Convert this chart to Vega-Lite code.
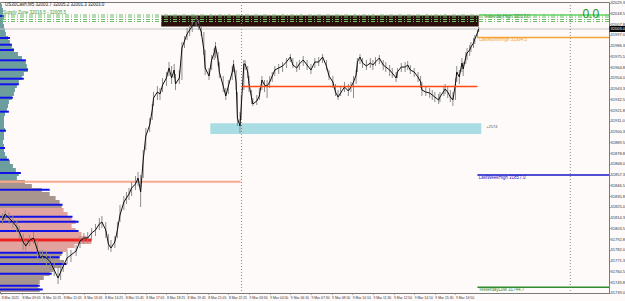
{
  "$schema": "https://vega.github.io/schema/vega-lite/v6.json",
  "width": 609,
  "height": 291,
  "autosize": "none",
  "padding": {"left": 0, "top": 2, "right": 16, "bottom": 8},
  "background": "#fffafa",
  "config": {
    "font": "Liberation Sans",
    "view": {"stroke": "#7a7a7a", "strokeWidth": 1},
    "axis": {"grid": false, "labelFontSize": 4, "labelColor": "#333333", "tickSize": 1, "tickColor": "#666666", "domainColor": "#7a7a7a", "labelPadding": 0, "labelOverlap": false, "labelFlush": false, "labelBound": false}
  },
  "datasets": {
    "candles": [
      {"bar":2,"close":31812,"high":31819,"low":31808},{"bar":4,"close":31818,"high":31822,"low":31812},{"bar":7,"close":31814,"high":31820,"low":31808},{"bar":10,"close":31810,"high":31816,"low":31804},{"bar":13,"close":31805,"high":31812,"low":31800},{"bar":15,"close":31800,"high":31806,"low":31794},{"bar":18,"close":31790,"high":31798,"low":31782},{"bar":20,"close":31786,"high":31792,"low":31780},{"bar":23,"close":31792,"high":31797,"low":31786},{"bar":26,"close":31794,"high":31800,"low":31788},
      {"bar":29,"close":31782,"high":31792,"low":31774},{"bar":31,"close":31774,"high":31782,"low":31770},{"bar":33,"close":31776,"high":31782,"low":31770},{"bar":36,"close":31774,"high":31780,"low":31766},{"bar":39,"close":31770,"high":31776,"low":31762},{"bar":42,"close":31762,"high":31770,"low":31756},{"bar":45,"close":31754,"high":31764,"low":31748},{"bar":47,"close":31760,"high":31766,"low":31752},{"bar":49,"close":31766,"high":31772,"low":31760},{"bar":52,"close":31774,"high":31780,"low":31768},
      {"bar":55,"close":31777,"high":31782,"low":31770},{"bar":59,"close":31781,"high":31787,"low":31776},{"bar":62,"close":31791,"high":31796,"low":31784},{"bar":65,"close":31794,"high":31799,"low":31788},{"bar":68,"close":31794,"high":31800,"low":31789},{"bar":71,"close":31799,"high":31804,"low":31792},{"bar":74,"close":31802,"high":31808,"low":31796},{"bar":77,"close":31808,"high":31814,"low":31802},{"bar":79,"close":31810,"high":31816,"low":31804},{"bar":82,"close":31802,"high":31810,"low":31794},
      {"bar":84,"close":31788,"high":31798,"low":31782},{"bar":86,"close":31784,"high":31792,"low":31780},{"bar":89,"close":31790,"high":31796,"low":31784},{"bar":91,"close":31802,"high":31810,"low":31794},{"bar":93,"close":31817,"high":31827,"low":31810},{"bar":96,"close":31830,"high":31836,"low":31822},{"bar":98,"close":31834,"high":31840,"low":31828},{"bar":100,"close":31838,"high":31844,"low":31832},{"bar":102,"close":31844,"high":31850,"low":31836},{"bar":105,"close":31848,"high":31856,"low":31842},
      {"bar":107,"close":31854,"high":31860,"low":31846},{"bar":109,"close":31840,"high":31857,"low":31825},{"bar":111,"close":31872,"high":31882,"low":31854},{"bar":113,"close":31896,"high":31904,"low":31882},{"bar":116,"close":31907,"high":31914,"low":31900},{"bar":118,"close":31922,"high":31928,"low":31912},{"bar":119,"close":31934,"high":31940,"low":31926},{"bar":122,"close":31940,"high":31946,"low":31932},{"bar":124,"close":31938,"high":31944,"low":31932},{"bar":126,"close":31947,"high":31954,"low":31940},
      {"bar":129,"close":31954,"high":31960,"low":31946},{"bar":131,"close":31964,"high":31970,"low":31956},{"bar":133,"close":31954,"high":31966,"low":31948},{"bar":135,"close":31962,"high":31968,"low":31954},{"bar":136,"close":31948,"high":31958,"low":31942},{"bar":139,"close":31954,"high":31962,"low":31948},{"bar":141,"close":31984,"high":31990,"low":31952},{"bar":143,"close":31991,"high":31996,"low":31984},{"bar":145,"close":31998,"high":32004,"low":31992},{"bar":147,"close":32002,"high":32007,"low":31996},
      {"bar":149,"close":32006,"high":32012,"low":32000},{"bar":152,"close":32012,"high":32016,"low":32006},{"bar":154,"close":32007,"high":32012,"low":32002},{"bar":156,"close":32000,"high":32006,"low":31996},{"bar":158,"close":31982,"high":32000,"low":31977},{"bar":159,"close":31964,"high":31982,"low":31957},{"bar":162,"close":31956,"high":31964,"low":31952},{"bar":164,"close":31972,"high":31977,"low":31962},{"bar":166,"close":31979,"high":31984,"low":31972},{"bar":167,"close":31986,"high":31990,"low":31974},
      {"bar":169,"close":31972,"high":31980,"low":31966},{"bar":170,"close":31960,"high":31970,"low":31954},{"bar":173,"close":31946,"high":31956,"low":31940},{"bar":175,"close":31936,"high":31944,"low":31932},{"bar":177,"close":31946,"high":31952,"low":31938},{"bar":180,"close":31960,"high":31966,"low":31952},{"bar":181,"close":31968,"high":31972,"low":31960},{"bar":183,"close":31950,"high":31962,"low":31942},{"bar":184,"close":31914,"high":31940,"low":31906},{"bar":186,"close":31906,"high":31920,"low":31899},
      {"bar":187,"close":31926,"high":31937,"low":31912},{"bar":189,"close":31968,"high":31972,"low":31942},{"bar":190,"close":31968,"high":31972,"low":31962},{"bar":192,"close":31960,"high":31966,"low":31954},{"bar":193,"close":31948,"high":31956,"low":31940},{"bar":195,"close":31934,"high":31942,"low":31928},{"bar":196,"close":31928,"high":31934,"low":31926},{"bar":199,"close":31931,"high":31937,"low":31927},{"bar":201,"close":31936,"high":31944,"low":31932},{"bar":203,"close":31952,"high":31956,"low":31942},
      {"bar":205,"close":31947,"high":31952,"low":31940},{"bar":207,"close":31946,"high":31952,"low":31934},{"bar":209,"close":31950,"high":31956,"low":31944},{"bar":211,"close":31956,"high":31960,"low":31950},{"bar":213,"close":31962,"high":31966,"low":31956},{"bar":216,"close":31964,"high":31968,"low":31958},{"bar":219,"close":31966,"high":31970,"low":31960},{"bar":222,"close":31970,"high":31974,"low":31964},{"bar":225,"close":31975,"high":31978,"low":31970},{"bar":227,"close":31967,"high":31974,"low":31964},
      {"bar":230,"close":31964,"high":31970,"low":31960},{"bar":232,"close":31968,"high":31972,"low":31962},{"bar":235,"close":31972,"high":31976,"low":31966},{"bar":238,"close":31967,"high":31972,"low":31962},{"bar":241,"close":31962,"high":31968,"low":31958},{"bar":244,"close":31970,"high":31974,"low":31964},{"bar":247,"close":31970,"high":31975,"low":31966},{"bar":250,"close":31975,"high":31978,"low":31969},{"bar":253,"close":31966,"high":31972,"low":31962},{"bar":255,"close":31956,"high":31962,"low":31952},
      {"bar":258,"close":31950,"high":31956,"low":31944},{"bar":260,"close":31940,"high":31948,"low":31936},{"bar":262,"close":31935,"high":31942,"low":31932},{"bar":264,"close":31939,"high":31946,"low":31936},{"bar":267,"close":31945,"high":31950,"low":31940},{"bar":270,"close":31941,"high":31948,"low":31936},{"bar":272,"close":31945,"high":31950,"low":31940},{"bar":274,"close":31950,"high":31956,"low":31934},{"bar":276,"close":31957,"high":31962,"low":31948},{"bar":277,"close":31970,"high":31974,"low":31960},
      {"bar":279,"close":31975,"high":31978,"low":31968},{"bar":281,"close":31969,"high":31974,"low":31964},{"bar":284,"close":31966,"high":31972,"low":31962},{"bar":287,"close":31969,"high":31974,"low":31964},{"bar":289,"close":31967,"high":31972,"low":31962},{"bar":291,"close":31970,"high":31975,"low":31966},{"bar":294,"close":31974,"high":31977,"low":31968},{"bar":297,"close":31967,"high":31972,"low":31962},{"bar":299,"close":31965,"high":31970,"low":31960},{"bar":302,"close":31962,"high":31967,"low":31956},
      {"bar":304,"close":31959,"high":31964,"low":31954},{"bar":307,"close":31954,"high":31960,"low":31950},{"bar":308,"close":31960,"high":31964,"low":31954},{"bar":311,"close":31965,"high":31969,"low":31960},{"bar":314,"close":31965,"high":31970,"low":31960},{"bar":316,"close":31967,"high":31971,"low":31962},{"bar":318,"close":31962,"high":31967,"low":31958},{"bar":321,"close":31960,"high":31964,"low":31955},{"bar":324,"close":31955,"high":31960,"low":31950},{"bar":326,"close":31950,"high":31956,"low":31944},
      {"bar":327,"close":31942,"high":31950,"low":31936},{"bar":330,"close":31940,"high":31946,"low":31936},{"bar":333,"close":31939,"high":31944,"low":31934},{"bar":335,"close":31937,"high":31942,"low":31932},{"bar":337,"close":31935,"high":31940,"low":31930},{"bar":340,"close":31932,"high":31938,"low":31928},{"bar":341,"close":31935,"high":31940,"low":31930},{"bar":344,"close":31941,"high":31946,"low":31936},{"bar":345,"close":31943,"high":31948,"low":31938},{"bar":347,"close":31940,"high":31946,"low":31934},
      {"bar":349,"close":31935,"high":31942,"low":31930},{"bar":351,"close":31932,"high":31940,"low":31926},{"bar":353,"close":31948,"high":31954,"low":31932},{"bar":354,"close":31960,"high":31966,"low":31950},{"bar":356,"close":31955,"high":31962,"low":31948},{"bar":358,"close":31969,"high":31974,"low":31960},{"bar":359,"close":31963,"high":31970,"low":31956},{"bar":361,"close":31975,"high":31980,"low":31968},{"bar":362,"close":31979,"high":31984,"low":31972},{"bar":364,"close":31982,"high":31987,"low":31976},
      {"bar":365,"close":31985,"high":31990,"low":31980},{"bar":367,"close":31989,"high":31994,"low":31984},{"bar":368,"close":31993,"high":31997,"low":31988},{"bar":370,"close":31999,"high":32002,"low":31994},{"bar":371,"close":32003,"high":32005,"low":32000}
    ],
    "profile": [
      {"hi":32028,"lo":32024,"vol":1.5,"zone":"a"},{"hi":32024,"lo":32020,"vol":2.3,"zone":"a"},{"hi":32020,"lo":32016,"vol":2.3,"zone":"a"},{"hi":32016,"lo":32012,"vol":3.1,"zone":"a"},{"hi":32012,"lo":32008,"vol":2.3,"zone":"a"},{"hi":32008,"lo":32004,"vol":3.1,"zone":"a"},{"hi":32004,"lo":32000,"vol":3.9,"zone":"a"},{"hi":32000,"lo":31996,"vol":4.6,"zone":"a"},{"hi":31996,"lo":31992,"vol":6.2,"zone":"a"},{"hi":31992,"lo":31988,"vol":7.7,"zone":"a"},
      {"hi":31988,"lo":31984,"vol":9.2,"zone":"a"},{"hi":31984,"lo":31980,"vol":10.8,"zone":"a"},{"hi":31980,"lo":31976,"vol":13.9,"zone":"a"},{"hi":31976,"lo":31972,"vol":17.0,"zone":"a"},{"hi":31972,"lo":31968,"vol":20.0,"zone":"a"},{"hi":31968,"lo":31964,"vol":20.8,"zone":"a"},{"hi":31964,"lo":31960,"vol":21.6,"zone":"a"},{"hi":31960,"lo":31956,"vol":18.5,"zone":"a"},{"hi":31956,"lo":31952,"vol":17.0,"zone":"a"},{"hi":31952,"lo":31948,"vol":14.6,"zone":"a"},
      {"hi":31948,"lo":31944,"vol":13.1,"zone":"a"},{"hi":31944,"lo":31940,"vol":11.6,"zone":"a"},{"hi":31940,"lo":31936,"vol":10.8,"zone":"a"},{"hi":31936,"lo":31932,"vol":9.2,"zone":"a"},{"hi":31932,"lo":31928,"vol":6.9,"zone":"a"},{"hi":31928,"lo":31924,"vol":6.2,"zone":"a"},{"hi":31924,"lo":31920,"vol":5.4,"zone":"a"},{"hi":31920,"lo":31916,"vol":3.9,"zone":"a"},{"hi":31916,"lo":31912,"vol":3.1,"zone":"a"},{"hi":31912,"lo":31908,"vol":3.1,"zone":"a"},
      {"hi":31908,"lo":31904,"vol":3.1,"zone":"a"},{"hi":31904,"lo":31900,"vol":3.9,"zone":"a"},{"hi":31900,"lo":31896,"vol":3.1,"zone":"a"},{"hi":31896,"lo":31892,"vol":3.1,"zone":"a"},{"hi":31892,"lo":31888,"vol":2.3,"zone":"a"},{"hi":31888,"lo":31884,"vol":3.1,"zone":"a"},{"hi":31884,"lo":31880,"vol":3.1,"zone":"a"},{"hi":31880,"lo":31876,"vol":3.9,"zone":"a"},{"hi":31876,"lo":31872,"vol":5.4,"zone":"a"},{"hi":31872,"lo":31868,"vol":7.7,"zone":"a"},
      {"hi":31868,"lo":31864,"vol":10.0,"zone":"a"},{"hi":31864,"lo":31860,"vol":12.3,"zone":"a"},{"hi":31860,"lo":31856,"vol":14.6,"zone":"a"},{"hi":31856,"lo":31852,"vol":13.1,"zone":"a"},{"hi":31852,"lo":31848,"vol":19.3,"zone":"b"},{"hi":31848,"lo":31844,"vol":24.7,"zone":"b"},{"hi":31844,"lo":31840,"vol":32.4,"zone":"b"},{"hi":31840,"lo":31836,"vol":38.5,"zone":"b"},{"hi":31836,"lo":31832,"vol":43.1,"zone":"b"},{"hi":31832,"lo":31828,"vol":46.2,"zone":"b"},
      {"hi":31828,"lo":31824,"vol":47.8,"zone":"b"},{"hi":31824,"lo":31820,"vol":49.3,"zone":"p"},{"hi":31820,"lo":31816,"vol":52.4,"zone":"p"},{"hi":31816,"lo":31812,"vol":55.5,"zone":"p"},{"hi":31812,"lo":31808,"vol":58.6,"zone":"p"},{"hi":31808,"lo":31804,"vol":55.5,"zone":"p"},{"hi":31804,"lo":31800,"vol":58.6,"zone":"p"},{"hi":31800,"lo":31796,"vol":63.2,"zone":"p"},{"hi":31796,"lo":31792,"vol":67.8,"zone":"p"},{"hi":31792,"lo":31788,"vol":70.9,"zone":"p"},
      {"hi":31788,"lo":31784,"vol":57.8,"zone":"p"},{"hi":31784,"lo":31780,"vol":52.4,"zone":"p"},{"hi":31780,"lo":31776,"vol":47.8,"zone":"b"},{"hi":31776,"lo":31772,"vol":46.2,"zone":"b"},{"hi":31772,"lo":31768,"vol":49.3,"zone":"b"},{"hi":31768,"lo":31764,"vol":47.8,"zone":"b"},{"hi":31764,"lo":31760,"vol":41.6,"zone":"b"},{"hi":31760,"lo":31756,"vol":38.5,"zone":"b"},{"hi":31756,"lo":31752,"vol":33.9,"zone":"b"},{"hi":31752,"lo":31748,"vol":30.8,"zone":"b"},
      {"hi":31748,"lo":31744,"vol":29.3,"zone":"b"},{"hi":31744,"lo":31740,"vol":30.8,"zone":"b"}
    ],
    "valuelines": [
      {"price":32016,"vol":3.1},{"price":31994,"vol":7.7},{"price":31987.3,"vol":9.2},{"price":31982,"vol":10.8},{"price":31971.7,"vol":20.0},{"price":31962.3,"vol":21.6},{"price":31953.3,"vol":18.5},{"price":31947.7,"vol":14.6},{"price":31934.3,"vol":10.0},{"price":31920.3,"vol":6.9},{"price":31901.3,"vol":4.6},{"price":31884,"vol":3.9},{"price":31872.3,"vol":6.9},{"price":31859,"vol":16.2},{"price":31842.3,"vol":38.5},{"price":31827.3,"vol":48.5},{"price":31815.3,"vol":56.2},{"price":31810.3,"vol":60.9},{"price":31801,"vol":60.9},{"price":31779.3,"vol":48.5},{"price":31774.7,"vol":46.2},{"price":31768,"vol":51.6},{"price":31758.3,"vol":40.1},{"price":31746.3,"vol":30.8},{"price":31742.5,"vol":33.1}
    ]
  },
  "layer": [
    {
      "data": {"name": "profile"},
      "mark": {"type": "rect"},
      "encoding": {
        "x": {"field": "vol", "type": "quantitative", "title": null, "scale": {"domain": [0, 472], "nice": false, "zero": false},
              "axis": {"tickCount": 200, "labelOverlap": false, "labelBound": false, "labelFlush": false, "labelFontSize": 3.4, "labelPadding": 1, "values": [1,17,33,49,65,81,97,113,129,145,161,177,193,209,225,241,257,273,289,305,321,337,353], "labelAlign": "left", "labelExpr": "['8 Mar 2021','8 Mar 09:05','8 Mar 10:25','8 Mar 11:45','8 Mar 13:05','8 Mar 14:25','8 Mar 15:45','8 Mar 17:05','8 Mar 18:25','8 Mar 19:45','8 Mar 21:05','8 Mar 22:25','9 Mar 03:30','9 Mar 04:50','9 Mar 06:10','9 Mar 07:30','9 Mar 08:50','9 Mar 10:10','9 Mar 11:30','9 Mar 12:50','9 Mar 14:10','9 Mar 15:30','9 Mar 16:50'][round((datum.value-1)/16)]"}},
        "x2": {"datum": 0},
        "y": {"field": "lo", "type": "quantitative", "title": null, "scale": {"domain": [31739, 32030], "nice": false, "zero": false},
              "axis": {"orient": "right", "tickCount": 200, "labelOverlap": false, "labelBound": false, "labelFlush": false, "format": ".1f", "values": [32029.3,32018.55,32007.8,31997.05,31986.3,31975.55,31964.8,31954.05,31943.3,31932.55,31921.8,31911.05,31900.3,31889.55,31878.8,31868.05,31857.3,31846.55,31835.8,31825.05,31814.3,31803.55,31792.8,31782.05,31771.3,31760.55,31749.8,31739.05]}},
        "y2": {"field": "hi"},
        "color": {"field": "zone", "type": "nominal", "legend": null, "scale": {"domain": ["a", "b", "p"], "range": ["#6d9e9e", "#a8958e", "#e2a39e"]}}
      }
    },
    {
      "data": {"values": [{"price": 31792, "vol": 70.9}]},
      "mark": {"type": "rule", "color": "#ee2222", "strokeWidth": 3},
      "encoding": {"x": {"field": "vol", "type": "quantitative", "title": null}, "x2": {"datum": 0}, "y": {"field": "price", "type": "quantitative", "title": null}}
    },
    {
      "data": {"name": "valuelines"},
      "mark": {"type": "rule", "color": "#1212e8", "strokeWidth": 2},
      "encoding": {"x": {"field": "vol", "type": "quantitative", "title": null}, "x2": {"datum": 0}, "y": {"field": "price", "type": "quantitative", "title": null}}
    },
    {
      "data": {"values": [{"bar": 125, "bar2": 371, "top": 32016.5, "bottom": 32005.5}]},
      "mark": {"type": "rect", "color": "#2b0f0b"},
      "encoding": {"x": {"field": "bar", "type": "quantitative", "title": null}, "x2": {"field": "bar2"}, "y": {"field": "bottom", "type": "quantitative", "title": null}, "y2": {"field": "top"}}
    },
    {
      "data": {"values": [{"bar": 163, "bar2": 373, "top": 31908.7, "bottom": 31898}]},
      "mark": {"type": "rect", "color": "#aadde3"},
      "encoding": {"x": {"field": "bar", "type": "quantitative", "title": null}, "x2": {"field": "bar2"}, "y": {"field": "bottom", "type": "quantitative", "title": null}, "y2": {"field": "top"}}
    },
    {
      "data": {"values": [{"price": 32017}, {"price": 32015}, {"price": 32012.5}, {"price": 32010.5}]},
      "mark": {"type": "rule", "color": "#6cbf6c", "strokeWidth": 1, "strokeDash": [4, 2, 1, 2]},
      "encoding": {"y": {"field": "price", "type": "quantitative", "title": null}}
    },
    {
      "data": {"values": [{"price": 32003}]},
      "mark": {"type": "rule", "color": "#c4c4c4", "strokeWidth": 1},
      "encoding": {"y": {"field": "price", "type": "quantitative", "title": null}}
    },
    {
      "data": {"values": [{"bar": 0, "bar2": 186.5, "price": 31850.3}]},
      "mark": {"type": "rule", "color": "#f4a98c", "strokeWidth": 2},
      "encoding": {"x": {"field": "bar", "type": "quantitative", "title": null}, "x2": {"field": "bar2"}, "y": {"field": "price", "type": "quantitative", "title": null}}
    },
    {
      "data": {"values": [{"bar": 187.2}, {"bar": 442}]},
      "mark": {"type": "rule", "color": "#8a8a8a", "strokeWidth": 1, "strokeDash": [1, 2]},
      "encoding": {"x": {"field": "bar", "type": "quantitative", "title": null}}
    },
    {
      "data": {"name": "candles"},
      "mark": {"type": "rule", "color": "#8c8c8c", "strokeWidth": 1},
      "encoding": {"x": {"field": "bar", "type": "quantitative", "title": null}, "y": {"field": "low", "type": "quantitative", "title": null}, "y2": {"field": "high"}}
    },
    {
      "data": {"name": "candles"},
      "mark": {"type": "line", "color": "#111111", "strokeWidth": 1},
      "encoding": {"x": {"field": "bar", "type": "quantitative", "title": null}, "y": {"field": "close", "type": "quantitative", "title": null}}
    },
    {
      "data": {"values": [{"bar": 187, "bar2": 370, "price": 31945.5}]},
      "mark": {"type": "rule", "color": "#ff4a12", "strokeWidth": 1.5},
      "encoding": {"x": {"field": "bar", "type": "quantitative", "title": null}, "x2": {"field": "bar2"}, "y": {"field": "price", "type": "quantitative", "title": null}}
    },
    {
      "data": {"values": [{"bar": 371, "bar2": 472, "price": 32017}]},
      "mark": {"type": "rule", "color": "#66d466", "strokeWidth": 1.5},
      "encoding": {"x": {"field": "bar", "type": "quantitative", "title": null}, "x2": {"field": "bar2"}, "y": {"field": "price", "type": "quantitative", "title": null}}
    },
    {
      "data": {"values": [{"bar": 370, "bar2": 472, "price": 31994.5}]},
      "mark": {"type": "rule", "color": "#f2a533", "strokeWidth": 1.5},
      "encoding": {"x": {"field": "bar", "type": "quantitative", "title": null}, "x2": {"field": "bar2"}, "y": {"field": "price", "type": "quantitative", "title": null}}
    },
    {
      "data": {"values": [{"bar": 370, "bar2": 472, "price": 31857}]},
      "mark": {"type": "rule", "color": "#1414c8", "strokeWidth": 1.5},
      "encoding": {"x": {"field": "bar", "type": "quantitative", "title": null}, "x2": {"field": "bar2"}, "y": {"field": "price", "type": "quantitative", "title": null}}
    },
    {
      "data": {"values": [{"bar": 370, "bar2": 472, "price": 31744.7}]},
      "mark": {"type": "rule", "color": "#2e8b2e", "strokeWidth": 1.5},
      "encoding": {"x": {"field": "bar", "type": "quantitative", "title": null}, "x2": {"field": "bar2"}, "y": {"field": "price", "type": "quantitative", "title": null}}
    },
    {
      "data": {"values": [{"bar": 472.4, "bar2": 485, "top": 32006, "bottom": 32000}]},
      "mark": {"type": "rect", "color": "#000000"},
      "encoding": {"x": {"field": "bar", "type": "quantitative", "title": null}, "x2": {"field": "bar2"}, "y": {"field": "bottom", "type": "quantitative", "title": null}, "y2": {"field": "top"}}
    },
    {
      "data": {"values": [{"bar": 473.2, "price": 32003, "label": "32003.0"}]},
      "mark": {"type": "text", "color": "#ffffff", "fontSize": 4, "align": "left", "baseline": "middle"},
      "encoding": {"x": {"field": "bar", "type": "quantitative", "title": null}, "y": {"field": "price", "type": "quantitative", "title": null}, "text": {"field": "label"}}
    },
    {
      "data": {"values": [
        {"bar": 3.9, "price": 32027, "label": "US30Cash,M5  32003.7 32005.2 32001.3 32003.0"}
      ]},
      "mark": {"type": "text", "color": "#222222", "fontSize": 4.5, "align": "left", "baseline": "middle"},
      "encoding": {"x": {"field": "bar", "type": "quantitative", "title": null}, "y": {"field": "price", "type": "quantitative", "title": null}, "text": {"field": "label"}}
    },
    {
      "data": {"values": [
        {"bar": 2.3, "price": 32019, "label": "Supply Zone 32016.5 - 32005.5"},
        {"bar": 374.5, "price": 32015.5, "label": "YesterdayHigh  32017.0"}
      ]},
      "mark": {"type": "text", "color": "#3a9a3a", "fontSize": 4.5, "align": "left", "baseline": "middle"},
      "encoding": {"x": {"field": "bar", "type": "quantitative", "title": null}, "y": {"field": "price", "type": "quantitative", "title": null}, "text": {"field": "label"}}
    },
    {
      "data": {"values": [{"bar": 371.5, "price": 31992.2, "label": "LastMonthHigh  31994.5"}]},
      "mark": {"type": "text", "color": "#f0a030", "fontSize": 4.5, "align": "left", "baseline": "middle"},
      "encoding": {"x": {"field": "bar", "type": "quantitative", "title": null}, "y": {"field": "price", "type": "quantitative", "title": null}, "text": {"field": "label"}}
    },
    {
      "data": {"values": [{"bar": 371, "price": 31854, "label": "LastWeekHigh  31857.0"}]},
      "mark": {"type": "text", "color": "#2020cc", "fontSize": 4.5, "align": "left", "baseline": "middle"},
      "encoding": {"x": {"field": "bar", "type": "quantitative", "title": null}, "y": {"field": "price", "type": "quantitative", "title": null}, "text": {"field": "label"}}
    },
    {
      "data": {"values": [{"bar": 371, "price": 31742, "label": "YesterdayLow  31744.7"}]},
      "mark": {"type": "text", "color": "#2e8b2e", "fontSize": 4.5, "align": "left", "baseline": "middle"},
      "encoding": {"x": {"field": "bar", "type": "quantitative", "title": null}, "y": {"field": "price", "type": "quantitative", "title": null}, "text": {"field": "label"}}
    },
    {
      "data": {"values": [{"bar": 376.8, "price": 31905.5, "label": "+2574"}]},
      "mark": {"type": "text", "color": "#555555", "fontSize": 4, "align": "left", "baseline": "middle"},
      "encoding": {"x": {"field": "bar", "type": "quantitative", "title": null}, "y": {"field": "price", "type": "quantitative", "title": null}, "text": {"field": "label"}}
    },
    {
      "data": {"values": [{"bar": 458, "price": 32013.7, "label": "0.0"}]},
      "mark": {"type": "text", "color": "#1a961a", "fontSize": 12, "align": "center", "baseline": "alphabetic"},
      "encoding": {"x": {"field": "bar", "type": "quantitative", "title": null}, "y": {"field": "price", "type": "quantitative", "title": null}, "text": {"field": "label"}}
    }
  ]
}
